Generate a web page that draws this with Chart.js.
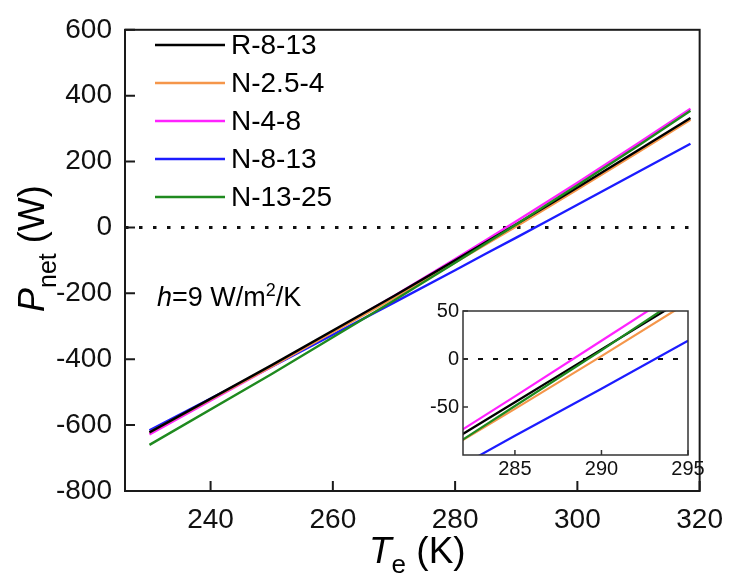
<!DOCTYPE html>
<html>
<head>
<meta charset="utf-8">
<script src="https://cdn.jsdelivr.net/npm/chart.js@4.4.1/dist/chart.umd.min.js"></script>
<style>
  body { margin: 0; background: #fff; }
  #wrap { position: relative; width: 735px; height: 585px; }
  #inset { position: absolute; left: 420px; top: 295px; }
</style>
</head>
<body>
<div id="wrap">
  <canvas id="main" width="735" height="585"></canvas>
  <canvas id="inset" width="300" height="190"></canvas>
</div>
<script>
// Te (K) sample points and Pnet (W)
const temps = [230, 250, 270, 280, 285, 290, 295, 300, 310, 318.5]
const r813 = [-622, -418, -208, -100, -45, 10, 65, 121, 235, 332]
const n254 = [-622, -422, -214, -106, -52, 3, 59, 115, 229, 327]
const n48 = [-628, -423, -208, -96, -39, 19, 77, 136, 256, 360]
const n813 = [-616, -423, -228, -130, -80, -31, 19, 69, 169, 254]
const n1325 = [-660, -445, -222, -107, -49, 9, 69, 128, 249, 354]

const seriesNames = ['R-8-13', 'N-2.5-4', 'N-4-8', 'N-8-13', 'N-13-25']
const seriesValues = [r813, n254, n48, n813, n1325]
const seriesColors = ['#000000', '#f5964a', '#ff22ff', '#1c1cff', '#1f8a1f']

const xTicks = [240, 260, 280, 300, 320]
const yTicks = [-800, -600, -400, -200, 0, 200, 400, 600]
const insetXTicks = [285, 290, 295]
const insetYTicks = [-50, 0, 50]

const FONT = "'Liberation Sans', Arial, sans-serif"

function makeDatasets(lineWidth, xMin, xMax, dash, dashWidth) {
  var sets = seriesNames.map(function (name, i) {
    return {
      label: name,
      data: temps.map(function (t, j) { return { x: t, y: seriesValues[i][j] } }),
      borderColor: seriesColors[i],
      borderWidth: lineWidth,
      pointRadius: 0,
      tension: 0,
      order: i === 4 ? 0 : i + 1,
    }
  })
  // zero reference line
  sets.push({
    label: 'zero',
    data: [{ x: xMin, y: 0 }, { x: xMax, y: 0 }],
    borderColor: '#111',
    borderWidth: dashWidth,
    borderDash: dash,
    pointRadius: 0,
    order: 10,
  })
  return sets
}

// box round the plot area plus inward tick marks
const frame = {
  id: 'frame',
  beforeDatasetsDraw(chart, args, opts) {
    if (!opts.fill) return
    const a = chart.chartArea
    chart.ctx.save()
    chart.ctx.fillStyle = '#fff'
    chart.ctx.fillRect(a.left, a.top, a.right - a.left, a.bottom - a.top)
    chart.ctx.restore()
  },
  afterDraw(chart, args, opts) {
    const { ctx, chartArea: a, scales } = chart
    ctx.save()
    ctx.strokeStyle = opts.color
    ctx.lineWidth = opts.width
    ctx.strokeRect(a.left, a.top, a.right - a.left, a.bottom - a.top)
    ctx.beginPath()
    scales.x.ticks.forEach(function (t) {
      const px = scales.x.getPixelForValue(t.value)
      ctx.moveTo(px, a.bottom)
      ctx.lineTo(px, a.bottom - opts.tick)
    })
    scales.y.ticks.forEach(function (t) {
      const py = scales.y.getPixelForValue(t.value)
      ctx.moveTo(a.left, py)
      ctx.lineTo(a.left + opts.tick, py)
    })
    ctx.stroke()
    ctx.restore()
  },
}

// text with italic symbol + subscript / superscript pieces
function drawPieces(ctx, x, y, pieces) {
  pieces.forEach(function (p) {
    ctx.font = (p.italic ? 'italic ' : '') + p.size + 'px ' + FONT
    ctx.fillText(p.text, x, y + (p.shift || 0))
    x += ctx.measureText(p.text).width
  })
}

const labels = {
  id: 'labels',
  afterDraw(chart) {
    const ctx = chart.ctx
    ctx.save()
    ctx.fillStyle = '#000'

    // legend
    seriesNames.forEach(function (name, i) {
      const y = 45 + i * 38
      ctx.strokeStyle = seriesColors[i]
      ctx.lineWidth = 2.4
      ctx.beginPath()
      ctx.moveTo(155, y)
      ctx.lineTo(225, y)
      ctx.stroke()
      ctx.font = '28px ' + FONT
      ctx.textBaseline = 'middle'
      ctx.fillText(name, 231, y + 1)
    })
    ctx.textBaseline = 'alphabetic'

    // x title
    drawPieces(ctx, 369, 563, [
      { text: 'T', italic: true, size: 37 },
      { text: 'e', size: 26, shift: 10 },
      { text: ' (K)', size: 37 },
    ])

    // y title
    ctx.save()
    ctx.translate(44, 312)
    ctx.rotate(-Math.PI / 2)
    drawPieces(ctx, 0, 0, [
      { text: 'P', italic: true, size: 36 },
      { text: 'net', size: 25, shift: 12 },
      { text: ' (W)', size: 36 },
    ])
    ctx.restore()

    // heat transfer note
    drawPieces(ctx, 157, 306, [
      { text: 'h', italic: true, size: 27 },
      { text: '=9 W/m', size: 27 },
      { text: '2', size: 18, shift: -10 },
      { text: '/K', size: 27 },
    ])
    ctx.restore()
  },
}

new Chart(document.getElementById('main').getContext('2d'), {
  type: 'line',
  data: { datasets: makeDatasets(2.4, 226, 320, [3.5, 10.5], 3) },
  plugins: [frame, labels],
  options: {
    responsive: false,
    animation: false,
    events: [],
    layout: { padding: { top: 23, right: 30, left: 0, bottom: 0 } },
    plugins: {
      legend: { display: false },
      tooltip: { enabled: false },
      frame: { color: '#1a1a1a', width: 2, tick: 10 },
    },
    scales: {
      x: {
        type: 'linear',
        min: 226,
        max: 320,
        afterFit: function (s) { s.height = 94 },
        afterBuildTicks: function (s) { s.ticks = xTicks.map(function (v) { return { value: v } }) },
        grid: { display: false, drawTicks: false },
        border: { display: false },
        ticks: { padding: 12, color: '#111', maxRotation: 0, autoSkip: false, font: { family: FONT, size: 28 } },
      },
      y: {
        type: 'linear',
        min: -800,
        max: 600,
        afterFit: function (s) { s.width = 125 },
        afterBuildTicks: function (s) { s.ticks = yTicks.map(function (v) { return { value: v } }) },
        grid: { display: false, drawTicks: false },
        border: { display: false },
        ticks: { padding: 13, color: '#111', autoSkip: false, font: { family: FONT, size: 28 } },
      },
    },
  },
})

new Chart(document.getElementById('inset').getContext('2d'), {
  type: 'line',
  data: { datasets: makeDatasets(2.2, 282, 295, [5, 10], 2) },
  plugins: [frame],
  options: {
    responsive: false,
    animation: false,
    events: [],
    layout: { padding: { top: 9, right: 32, left: 0, bottom: 0 } },
    plugins: {
      legend: { display: false },
      tooltip: { enabled: false },
      frame: { color: '#333', width: 1.5, tick: 5, fill: true },
    },
    scales: {
      x: {
        type: 'linear',
        min: 282,
        max: 295,
        afterFit: function (s) { s.height = 30 },
        afterBuildTicks: function (s) { s.ticks = insetXTicks.map(function (v) { return { value: v } }) },
        grid: { display: false, drawTicks: false },
        border: { display: false },
        ticks: { padding: 2, color: '#111', maxRotation: 0, autoSkip: false, font: { family: FONT, size: 20 } },
      },
      y: {
        type: 'linear',
        min: -100,
        max: 50,
        afterFit: function (s) { s.width = 43 },
        afterBuildTicks: function (s) { s.ticks = insetYTicks.map(function (v) { return { value: v } }) },
        grid: { display: false, drawTicks: false },
        border: { display: false },
        ticks: { padding: 4, color: '#111', autoSkip: false, font: { family: FONT, size: 20 } },
      },
    },
  },
})
</script>
</body>
</html>
